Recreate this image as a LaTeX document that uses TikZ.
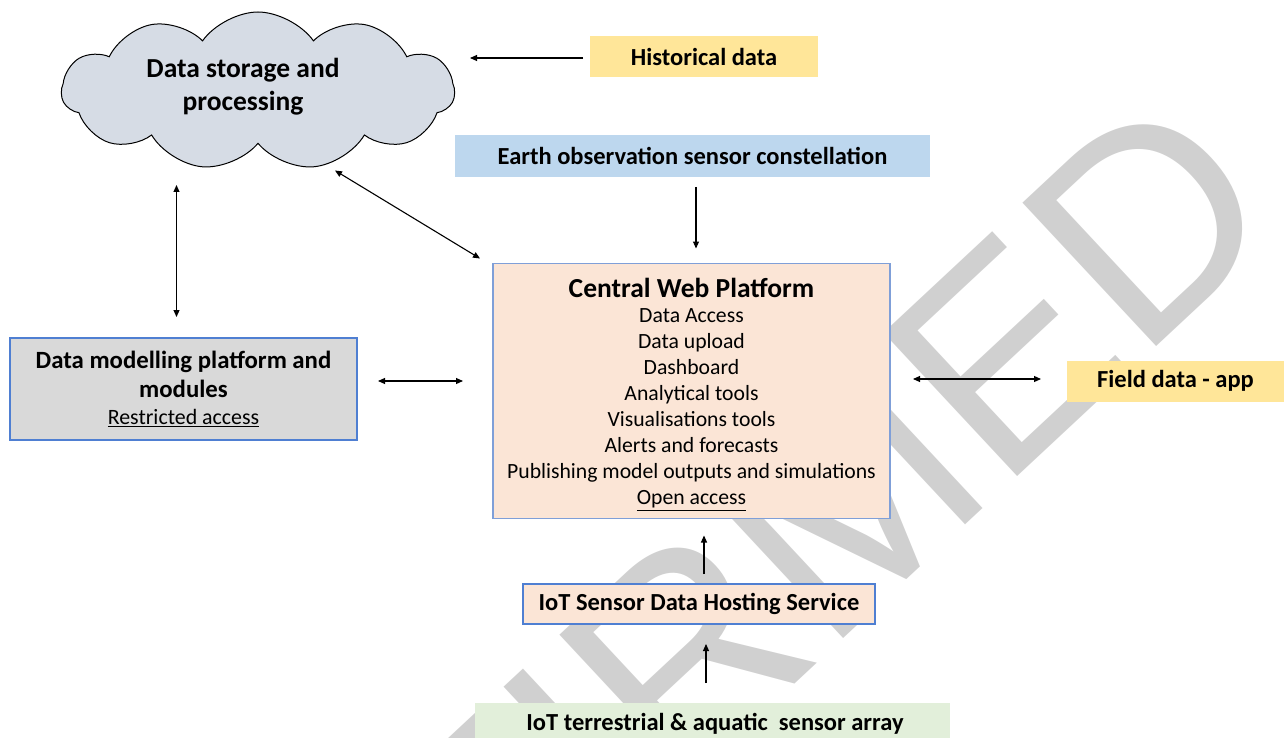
\documentclass[tikz,border=0pt]{standalone}
\usepackage{fontspec}
\setmainfont{Carlito}
\newfontfamily\markfont{Liberation Sans}
\usetikzlibrary{shapes.symbols,arrows.meta,calc}

\definecolor{cloudfill}{HTML}{D6DCE5}
\definecolor{yellowfill}{HTML}{FFE699}
\definecolor{bluefill}{HTML}{BDD7EE}
\definecolor{peachfill}{HTML}{FBE5D6}
\definecolor{greyfill}{HTML}{D9D9D9}
\definecolor{greenfill}{HTML}{E2EFDA}
\definecolor{boxline}{HTML}{4F7FD2}
\definecolor{boxlight}{HTML}{7F9FD8}
\definecolor{markgrey}{HTML}{D0D0D0}

\tikzset{
  plain/.style={inner sep=0pt, outer sep=0pt, align=center},
  band/.style={plain, minimum height=41pt},
  framed/.style={plain, draw=boxline, line width=1.1pt},
  lbl/.style={font=\fontsize{24.5}{28}\selectfont\bfseries},
  arr/.style={line width=1.1pt, -{Triangle[length=7pt,width=6pt]}},
  darr/.style={line width=1.1pt, {Triangle[length=7pt,width=6pt]}-{Triangle[length=7pt,width=6pt]}}
}

\begin{document}
\begin{tikzpicture}[x=1pt,y=-1pt]
  \useasboundingbox (0,0) rectangle (1284,738);
  \clip (0,0) rectangle (1284,738);

  % background watermark
  \node[rotate=43, anchor=base east, inner sep=0pt, text=markgrey,
        font=\markfont\fontsize{285}{285}\selectfont] (mark) at (1290,222) {CONFIRMED};

  % cloud
  \node[cloud, cloud puffs=11, cloud puff arc=110, draw=black, line width=1pt,
        fill=cloudfill, minimum width=393pt, minimum height=158pt, aspect=2.5,
        inner sep=0pt] (store) at (258,91) {};
  \node[plain, font=\fontsize{27.5}{33}\selectfont\bfseries] (storetxt) at (243,87)
        {Data storage and\\processing};

  % labels and boxes
  \node[band, fill=yellowfill, minimum width=228pt, lbl] (hist) at (704,57) {Historical data};
  \node[band, fill=bluefill, minimum width=475pt, minimum height=42pt, lbl] (eo) at (692.5,156) {Earth observation sensor constellation};

  \node[plain, draw=boxlight, line width=1.1pt, fill=peachfill,
        minimum width=397pt, minimum height=255pt] (cwp) at (691.5,391) {};
  \node[plain, font=\fontsize{21.7}{26}\selectfont] (cwptxt) at (691.5,394.5)
        {{\fontsize{27.5}{30}\selectfont\bfseries Central Web Platform}\\[-1pt]
         Data Access\\ Data upload\\ Dashboard\\ Analytical tools\\
         Visualisations tools\\ Alerts and forecasts\\
         Publishing model outputs and simulations\\ \underline{Open access}};

  \node[framed, fill=greyfill, minimum width=347pt, minimum height=102pt,
        font=\fontsize{24.8}{29}\selectfont] (model) at (183.5,389)
        {{\bfseries Data modelling platform and}\\{\bfseries modules}\\[-2pt]
         {\fontsize{21.9}{24}\selectfont\underline{Restricted access}}};

  \node[band, fill=yellowfill, minimum width=217pt, lbl] (field) at (1175.5,381) {Field data - app};

  \node[framed, fill=peachfill, minimum width=352pt, minimum height=40pt, lbl] (iot) at (699,604)
        {IoT Sensor Data Hosting Service};

  \node[plain, fill=greenfill, minimum width=475pt, minimum height=48pt] (terr) at (712.5,727) {};
  \node[plain, lbl] (terrtxt) at (715,724) {IoT terrestrial \& aquatic\ \ sensor array};

  % connectors
  \draw[arr]  ($(hist.west)+(-7,1)$) -- ++(-113,0);
  \draw[arr]  ($(eo.south)+(3.5,10)$) -- ($(cwp.north)+(4.5,-15)$);
  \draw[darr] ($(model.north)+(-7,-21)$) -- ++(0,-132);
  \draw[darr] ($(cwp.north west)+(-13,-5)$) -- ++(-145,-88);
  \draw[darr] ($(model.east)+(21,-8)$) -- ++(85,0);
  \draw[darr] ($(cwp.east)+(23,-12)$) -- ++(128,0);
  \draw[arr]  ($(iot.north)+(5,-10)$) -- ($(cwp.south)+(12.5,17)$);
  \draw[arr]  ($(terr.north)+(-6.5,-20)$) -- ($(iot.south)+(7,20)$);
\end{tikzpicture}
\end{document}
